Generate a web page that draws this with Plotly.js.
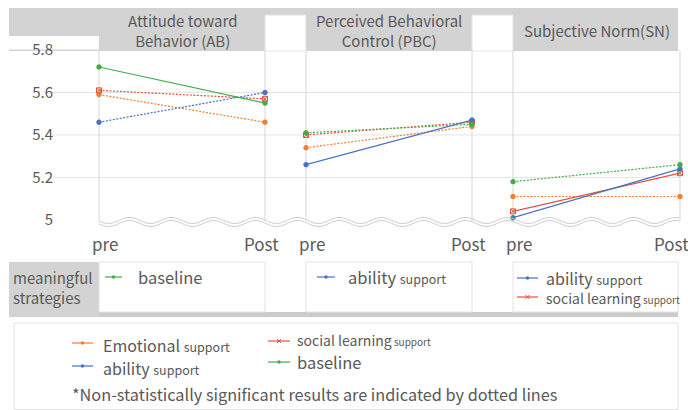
<!DOCTYPE html>
<html>
<head>
<meta charset="utf-8">
<script src="https://cdn.plot.ly/plotly-3.0.1.min.js"></script>
<style>
html,body{margin:0;padding:0;background:#fff;}
#chart{width:688px;height:410px;}
</style>
</head>
<body>
<div id="chart"></div>
<script>
// ---------------- DATA ----------------
const phases = ['pre', 'Post'];
const constructTitles = ['Attitude toward<br>Behavior (AB)', 'Perceived Behavioral<br>Control (PBC)', 'Subjective Norm(SN)'];
const seriesNames = ['Emotional support', 'social learning support', 'ability support', 'baseline'];
// values per construct [AB, PBC, SN], each [pre, Post]
const emotionalSupport = [[5.59, 5.46], [5.34, 5.44], [5.11, 5.11]];
const socialLearningSupport = [[5.61, 5.57], [5.40, 5.46], [5.04, 5.22]];
const abilitySupport = [[5.46, 5.60], [5.26, 5.47], [5.01, 5.24]];
const baseline = [[5.72, 5.55], [5.41, 5.45], [5.18, 5.26]];
// statistically meaningful strategies per construct (series index)
const meaningful = [[3], [2], [2, 1]];
const yTickVals = [5, 5.2, 5.4, 5.6, 5.8];
const yTickText = ['5', '5.2', '5.4', '5.6', '5.8'];

// ---------------- STYLE ----------------
const W = 688, H = 410;
const X = p => p / W;
const Y = p => 1 - p / H;
const FONT = 'Noto Sans CJK KR, Noto Sans, sans-serif';
const TXT = '#595959';
const colors = ['#F07F32', '#E5503F', '#4472C4', '#3FAE49'];
const symbols = ['circle', 'square-x-open', 'circle', 'circle'];
const allSeries = [emotionalSupport, socialLearningSupport, abilitySupport, baseline];
const panels = [[99, 265], [306, 472], [513, 680]];
const xa = ['x', 'x2', 'x3'];

const traces = [];
for (let c = 0; c < 3; c++) {
  for (let s = 0; s < 4; s++) {
    const sig = meaningful[c].includes(s);
    traces.push({
      type: 'scatter', mode: 'lines+markers',
      x: phases, y: allSeries[s][c],
      xaxis: xa[c], yaxis: 'y',
      line: {color: colors[s], width: 1.2, dash: sig ? 'solid' : '2px,1.5px'},
      marker: {color: colors[s], size: s === 1 ? 5 : 4.5, symbol: symbols[s], line: {color: colors[s], width: 1}},
      cliponaxis: false, showlegend: false, hoverinfo: 'skip', name: seriesNames[s]
    });
  }
}

const shapes = [];
// gridlines
yTickVals.filter(v => v > 5).forEach(v => shapes.push({type: 'line', xref: 'paper', yref: 'y', x0: X(52), x1: X(680), y0: v, y1: v, line: {color: '#e4e4e4', width: 1}, layer: 'below'}));
// header
shapes.push({type: 'rect', xref: 'paper', yref: 'paper', x0: X(9), x1: X(678), y0: Y(8), y1: Y(51), fillcolor: '#d3d3d3', line: {width: 0}, layer: 'below'});
shapes.push({type: 'rect', xref: 'paper', yref: 'paper', x0: X(9), x1: X(99), y0: Y(36), y1: Y(49.5), fillcolor: '#ffffff', line: {width: 0}, layer: 'below'});
[[265, 306], [472, 513]].forEach(g => shapes.push({type: 'rect', xref: 'paper', yref: 'paper', x0: X(g[0]), x1: X(g[1]), y0: Y(15), y1: Y(51), fillcolor: '#ffffff', line: {color: '#e2e2e2', width: 1}, layer: 'below'}));
// panel borders
xa.forEach(a => [0, 1].forEach(e => shapes.push({type: 'line', xref: a + ' domain', yref: 'paper', x0: e, x1: e, y0: Y(51), y1: Y(221), line: {color: '#d6d6d6', width: 1}, layer: 'below'})));
// wave break
function wavePath(off) {
  let d = '';
  for (let p = 99; p <= 680; p += 1.5) {
    const py = 222 + off + 3 * Math.sin((p - 119) / 42 * 2 * Math.PI + Math.PI);
    d += (d ? ' L' : 'M') + X(p).toFixed(5) + ',' + Y(py).toFixed(5);
  }
  return d;
}
shapes.push({type: 'path', xref: 'paper', yref: 'paper', path: wavePath(-1.5), line: {color: '#cccccc', width: 1}});
shapes.push({type: 'path', xref: 'paper', yref: 'paper', path: wavePath(1.5), line: {color: '#cccccc', width: 1}});
// meaningful strategies row
shapes.push({type: 'rect', xref: 'paper', yref: 'paper', x0: X(9), x1: X(678), y0: Y(312), y1: Y(317), fillcolor: '#cbcbcb', line: {width: 0}});
shapes.push({type: 'rect', xref: 'paper', yref: 'paper', x0: X(9), x1: X(99), y0: Y(262), y1: Y(317), fillcolor: '#d3d3d3', line: {width: 0}});
[[99, 265], [306, 472], [513, 678]].forEach(b => shapes.push({type: 'rect', xref: 'paper', yref: 'paper', x0: X(b[0]), x1: X(b[1]), y0: Y(262), y1: Y(312), fillcolor: '#ffffff', line: {color: '#e2e2e2', width: 1}}));
// bottom legend box
shapes.push({type: 'rect', xref: 'paper', yref: 'paper', x0: X(14), x1: X(678), y0: Y(323), y1: Y(409.5), fillcolor: '#ffffff', line: {color: '#e2e2e2', width: 1}});

function legendSym(x1, x2, y, s) {
  shapes.push({type: 'line', xref: 'paper', yref: 'paper', x0: X(x1), x1: X(x2), y0: Y(y), y1: Y(y), line: {color: colors[s], width: 1.2}});
  const cx = (x1 + x2) / 2;
  if (s === 1) {
    shapes.push({type: 'line', xref: 'paper', yref: 'paper', x0: X(cx - 2), x1: X(cx + 2), y0: Y(y - 2), y1: Y(y + 2), line: {color: colors[s], width: 1}});
    shapes.push({type: 'line', xref: 'paper', yref: 'paper', x0: X(cx - 2), x1: X(cx + 2), y0: Y(y + 2), y1: Y(y - 2), line: {color: colors[s], width: 1}});
  } else {
    shapes.push({type: 'circle', xref: 'paper', yref: 'paper', x0: X(cx - 1.7), x1: X(cx + 1.7), y0: Y(y - 1.7), y1: Y(y + 1.7), fillcolor: colors[s], line: {width: 0}});
  }
}

const annotations = [];
function txt(text, x, y, size, anchor, extra) {
  annotations.push(Object.assign({text: text, xref: 'paper', yref: 'paper', x: X(x), y: Y(y), xanchor: anchor || 'left', yanchor: 'middle', showarrow: false, align: 'left', font: {family: FONT, size: size, color: TXT}}, extra || {}));
}
const sm = (w, s) => '<span style="font-size:' + (s || 12.5) + 'px">' + w + '</span>';
const socialText = sm('social learning', 14) + sm(' support', 10);
// titles
constructTitles.forEach((t, i) => annotations.push({text: t, xref: xa[i] + ' domain', yref: 'paper', x: 0.5, y: Y(31), xanchor: 'center', yanchor: 'middle', showarrow: false, align: 'center', font: {family: FONT, size: 15, color: TXT}}));
// x labels
const postShift = [-4, -4, -9];
xa.forEach((a, i) => {
  annotations.push({text: phases[0], xref: a, yref: 'paper', x: phases[0], y: Y(243), xanchor: 'center', yanchor: 'middle', xshift: 6, showarrow: false, font: {family: FONT, size: 17, color: TXT}});
  annotations.push({text: phases[1], xref: a, yref: 'paper', x: phases[1], y: Y(243), xanchor: 'center', yanchor: 'middle', xshift: postShift[i], showarrow: false, font: {family: FONT, size: 17, color: TXT}});
});
// meaningful strategies row
txt('meaningful<br>strategies', 11, 287, 15);
legendSym(105, 122, 277, 3); txt('baseline', 136, 277, 16.5);
legendSym(317, 335, 277, 2); txt('ability ' + sm('support'), 346, 277, 16.5);
legendSym(517, 538, 278, 2); txt('ability ' + sm('support'), 544, 278, 16);
legendSym(517, 538, 297, 1); txt(socialText, 544, 298, 14);
// bottom legend
legendSym(72, 93, 343, 0); txt('Emotional ' + sm('support'), 101, 345, 16);
legendSym(72, 93, 366, 2); txt('ability ' + sm('support'), 101, 367.5, 16);
legendSym(268, 290, 341, 1); txt(socialText, 295, 340, 14);
legendSym(268, 290, 362, 3); txt('baseline', 295, 362, 16.5);
txt('*Non-statistically significant results are indicated by dotted lines', 70, 394, 16.3);

const layout = {
  width: W, height: H,
  margin: {l: 0, r: 0, t: 0, b: 0},
  paper_bgcolor: '#ffffff', plot_bgcolor: 'rgba(0,0,0,0)',
  font: {family: FONT, color: TXT},
  showlegend: false,
  yaxis: {domain: [Y(222), Y(50)], range: [4.99, 5.8], anchor: 'free', position: X(53), side: 'left',
    tickvals: yTickVals, ticktext: yTickText, ticks: '', showgrid: false, zeroline: false, showline: false,
    tickfont: {family: FONT, size: 15, color: TXT}},
  shapes: shapes, annotations: annotations
};
panels.forEach((p, i) => {
  layout[i === 0 ? 'xaxis' : 'xaxis' + (i + 1)] = {domain: [X(p[0]), X(p[1])], anchor: 'y', type: 'category', categoryarray: phases, range: [0, 1], visible: false, fixedrange: true};
});
Plotly.newPlot('chart', traces, layout, {staticPlot: true, displayModeBar: false});
</script>
</body>
</html>
